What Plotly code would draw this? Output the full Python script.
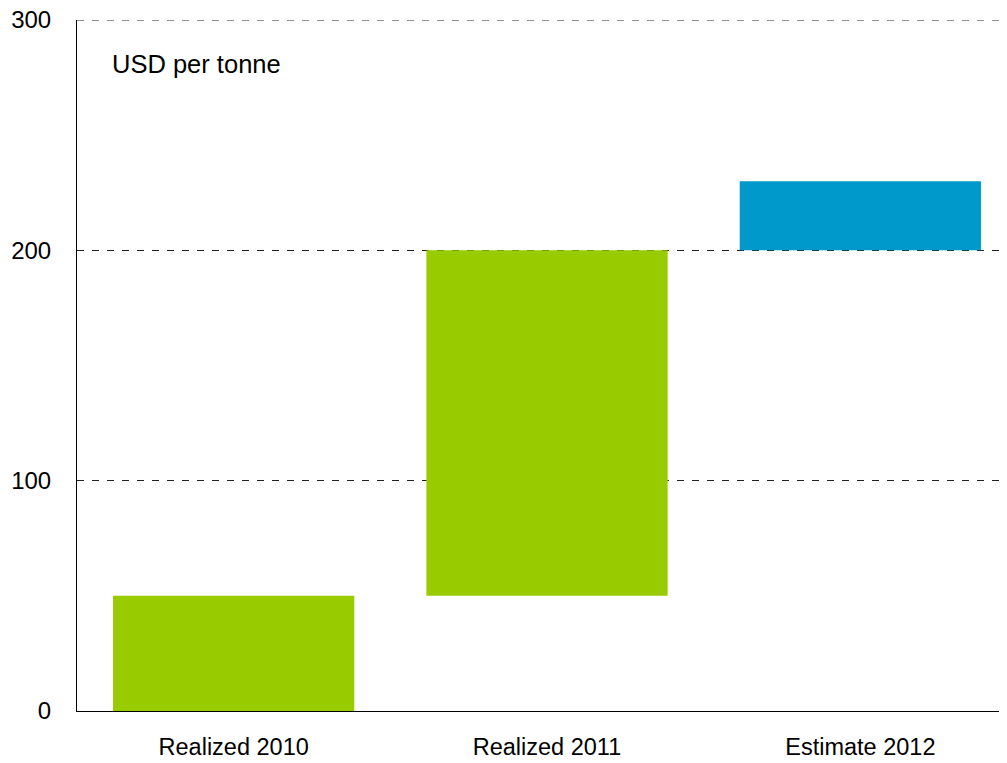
import plotly.graph_objects as go

categories = ["Realized 2010", "Realized 2011", "Estimate 2012"]
bases = [0, 50, 200]
heights = [50, 150, 30]
colors = ["#99CC00", "#99CC00", "#0099CC"]
y_ticks = [0, 100, 200, 300]
unit_label = "USD per tonne"

fig = go.Figure()
fig.add_trace(go.Bar(
    x=categories, y=heights, base=bases,
    marker=dict(color=colors, line=dict(width=0)),
    width=0.77, showlegend=False, hoverinfo="skip",
))

family = "Liberation Sans, Arial, sans-serif"
dash = "7px,8px"
grid_color = "#222222"
# the page body adds an 8px margin, so shift the figure up/left by 8px;
# the plot area runs slightly past the right edge of the window, as in the reference
fig.update_layout(
    width=1009, height=755,
    margin=dict(l=69, r=0, t=12, b=52),
    paper_bgcolor="white", plot_bgcolor="white",
    font=dict(family=family, size=24, color="#000000"),
)
fig.update_xaxes(
    showline=True, linecolor="#000000", linewidth=1,
    showgrid=False, ticks="", ticklabelstandoff=15, automargin=False,
    range=[-0.5, 2.5], tickfont=dict(family=family, size=23.5, color="#000000"),
)
fig.update_yaxes(
    range=[min(y_ticks), max(y_ticks)], tickvals=y_ticks, ticktext=[str(v) for v in y_ticks],
    showline=True, linecolor="#000000", linewidth=1,
    showgrid=True, gridcolor=grid_color, gridwidth=1, griddash=dash,
    zeroline=False, ticks="", ticklabelstandoff=20, automargin=False,
    ticklabeloverflow="allow",
    tickfont=dict(family=family, size=24, color="#000000"),
)
# top gridline (Plotly skips the grid line at the range end)
fig.add_shape(
    type="line", xref="paper", yref="y", x0=0, x1=1, y0=max(y_ticks), y1=max(y_ticks),
    line=dict(color=grid_color, width=1, dash=dash), layer="below",
)
fig.add_annotation(
    text=unit_label, xref="paper", yref="paper", x=0.035, y=0.936,
    xanchor="left", yanchor="middle", showarrow=False,
    font=dict(family=family, size=25.5, color="#000000"),
)
fig.write_html("out.html")
